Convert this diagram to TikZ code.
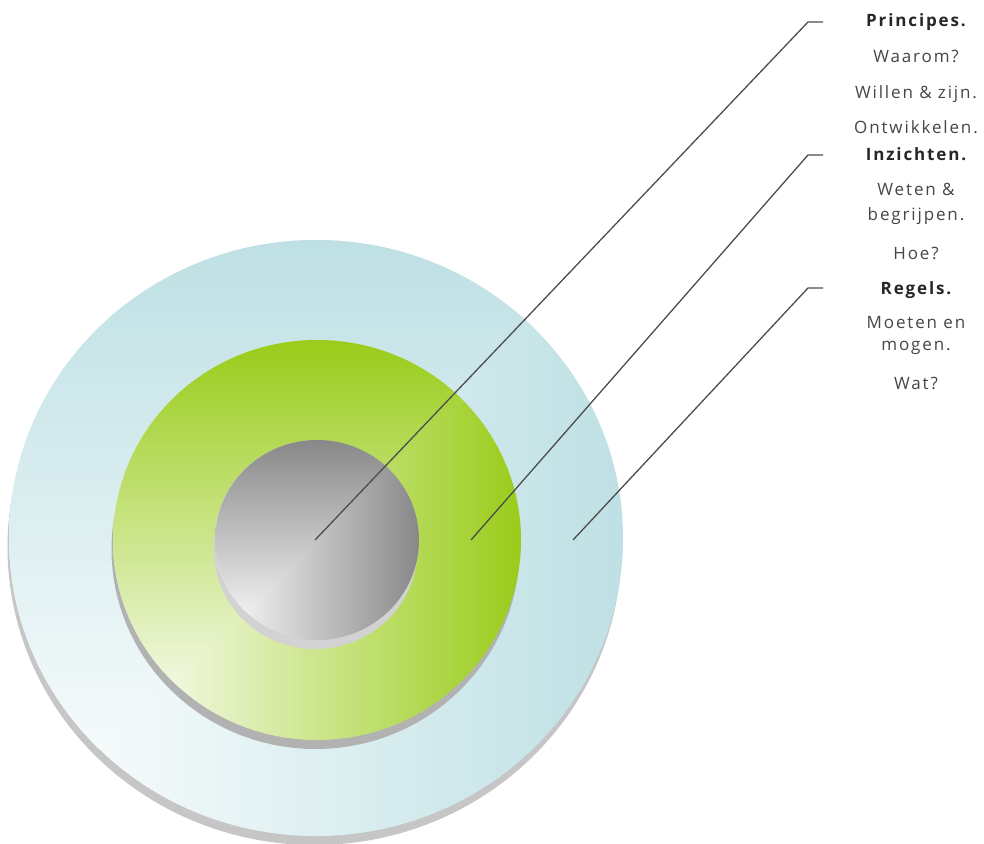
\documentclass[tikz,border=0pt]{standalone}
\usepackage{fontspec}
\newfontfamily\labelfont[LetterSpace=11]{Open Sans}
\usetikzlibrary{calc}
\definecolor{randblauw}{HTML}{BEE0E4}
\definecolor{inzichtgroen}{HTML}{99CC1A}
\definecolor{kerngrijs}{HTML}{888888}
\definecolor{lijngrijs}{HTML}{4D4D4D}
\definecolor{tekstgrijs}{HTML}{454545}

% schijf met schaduw en hoekverloop: cx, cy, rx, ry, kleur, schaduwkleur
\newcommand{\schijf}[6]{%
  \fill[#6] ({#1-1.5},{#2+9}) ellipse ({#3} and {#4});
  \begin{scope}
    \clip (#1,#2) ellipse ({#3} and {#4});
    \shade[left color=white,right color=#5] ({#1-#3},{#2+#4}) rectangle ({#1+#3},{#2-#4});
    \shade[bottom color=white,top color=#5] ({#1-#3},{#2+#4}) -- ({#1-#3},{#2-#4}) -- ({#1+#3},{#2-#4}) -- cycle;
  \end{scope}}

\tikzset{
  kop/.style={font=\labelfont\bfseries\fontsize{17}{20}\selectfont,text=black!85,anchor=base},
  regel/.style={font=\labelfont\fontsize{17}{20}\selectfont,text=tekstgrijs,anchor=base},
  wijzer/.style={draw=lijngrijs,line width=1.3pt,line join=round}
}

\begin{document}
\begin{tikzpicture}[x=1pt,y=-1pt]
  \useasboundingbox (0,0) rectangle (984,843);

  % de drie schijven
  \schijf{316}{538}{307}{298}{randblauw}{gray!45}
  \schijf{317}{540}{204}{200}{inzichtgroen}{gray!60}
  \schijf{317}{540}{102}{100}{kerngrijs}{gray!35}

  \coordinate (kern) at (315,540);
  \coordinate (midden) at (471,540);
  \coordinate (rand) at (573,540);
  \coordinate (knik1) at (808,22);
  \coordinate (knik2) at (808,155);
  \coordinate (knik3) at (808,288);
  \coordinate (eind1) at (823,22);
  \coordinate (eind2) at (823,155);
  \coordinate (eind3) at (823,288);

  \draw[wijzer] (kern) -- (knik1) -- (eind1);
  \draw[wijzer] (midden) -- (knik2) -- (eind2);
  \draw[wijzer] (rand) -- (knik3) -- (eind3);

  % teksten
  \node[kop] (principes) at (916,27) {Principes.};
  \node[regel] (waarom) at (916,63) {Waarom?};
  \node[regel] (willen) at (916,98) {Willen \& zijn.};
  \node[regel] (ontwikkelen) at (916,133) {Ontwikkelen.};
  \node[kop] (inzichten) at (916,160) {Inzichten.};
  \node[regel] (weten) at (916,195) {Weten \&};
  \node[regel] (begrijpen) at (916,220) {begrijpen.};
  \node[regel] (hoe) at (916,259) {Hoe?};
  \node[kop] (regels) at (916,294) {Regels.};
  \node[regel] (moeten) at (916,328) {Moeten en};
  \node[regel] (mogen) at (916,350) {mogen.};
  \node[regel] (wat) at (916,389) {Wat?};
\end{tikzpicture}
\end{document}
